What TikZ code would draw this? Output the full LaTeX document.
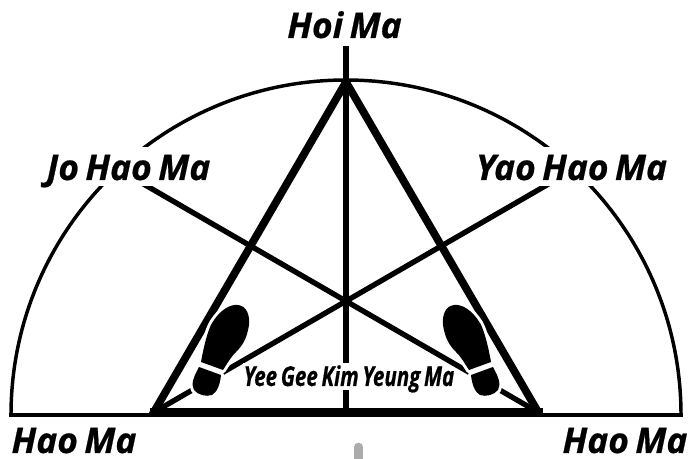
\documentclass[tikz,border=0pt]{standalone}
\usepackage{fontspec}
\setmainfont[ItalicFont={Open Sans Italic},BoldItalicFeatures={FakeBold=0.6},WordSpace=0.7]{Open Sans}
\tikzset{
  lab/.style={font=\fontsize{26.5}{30}\selectfont\bfseries\itshape, inner sep=0pt, anchor=base},
  labs/.style={font=\fontsize{20.5}{24}\selectfont\bfseries\itshape, inner sep=0pt, anchor=base},
  heavy/.style={line width=5.8pt},
  baseheavy/.style={line width=6.75pt},
  spoke/.style={line width=4pt},
  thin/.style={line width=2.6pt},
  gap/.style={fill=white, draw=none},
  shoefill/.style={fill=black, draw=none}
}
\newcommand{\solepath}{(201,362) .. controls (204,345) and (208,330) .. (212,323) .. controls (220,310) and (230,304) .. (238,305) .. controls (247,306) and (250,316) .. (249,325) .. controls (247,338) and (243,345) .. (236,352) .. controls (230,358) and (227,364) .. (223,370) -- cycle}
\newcommand{\heelpath}{(199,367) -- (221,375) .. controls (220,385) and (217,392) .. (212,395) .. controls (206,397) and (198,395) .. (194,390) .. controls (191,384) and (193,378) .. (199,367) -- cycle}
\newcommand{\drawshoe}{%
  \fill[gap, draw=white, line width=4.5pt, line join=round] \solepath;
  \fill[gap, draw=white, line width=4.5pt, line join=round] \heelpath;
  \fill[shoefill] \solepath;
  \fill[shoefill] \heelpath;
}
\begin{document}
\begin{tikzpicture}[x=0.75pt,y=-0.75pt]
\useasboundingbox (0,0) rectangle (689,459);
\fill[white] (0,0) rectangle (689,459);
\coordinate (apex) at (346,82);
\coordinate (bl) at (151,417);
\coordinate (br) at (541,417);
\coordinate (blb) at (150,412.5);
\coordinate (brb) at (543,412.5);
\coordinate (top) at (346,46);
\coordinate (bm) at (346,410);
\coordinate (el) at (11,415);
\coordinate (er) at (681,415);
\coordinate (jo) at (140,182);
\coordinate (yao) at (552,182);
\coordinate (sl) at (156,411);
\coordinate (sr) at (536,411);
% gray mark
\draw[line width=6.5pt, color=black!33, line cap=round] (358.5,447) -- (358.5,465);
% semicircle and base
\draw[thin] (el) arc[start angle=180, end angle=360, radius=335];
\draw[thin, line cap=rect] (el) -- (er);
% spokes
\draw[spoke] (top) -- (bm);
\draw[spoke] (jo) -- (sr);
\draw[spoke] (yao) -- (sl);
% triangle
\begin{scope}
\clip (0,0) rectangle (689,417);
\draw[heavy] (bl) -- (apex) -- (br);
\end{scope}
\draw[baseheavy] (blb) -- (brb);
% shoes
\drawshoe
\begin{scope}[shift={(692,0)}, xscale=-1]
\drawshoe
\end{scope}
% label backgrounds
\fill[gap] (40,147) rectangle (216,186);
\fill[gap] (470,147) rectangle (668,186);
\fill[gap] (243,363) rectangle (445,390);
% labels
\node[lab] (hoi) at (344.5,38) {Hoi Ma};
\node[lab] (jolab) at (128.5,180) {Jo Hao Ma};
\node[lab] (yaolab) at (571.5,180) {Yao Hao Ma};
\node[lab] (hl) at (74,453) {Hao Ma};
\node[lab] (hr) at (625,453) {Hao Ma};
\node[labs] (yee) at (349,386) {\scalebox{0.75}[1]{Yee Gee Kim Yeung Ma}};
\end{tikzpicture}
\end{document}
